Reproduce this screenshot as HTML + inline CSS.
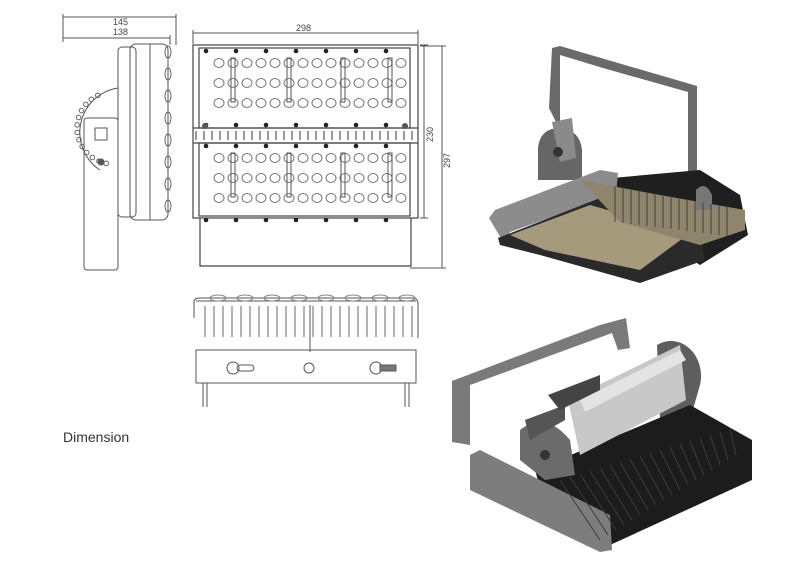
<!DOCTYPE html>
<html><head><meta charset="utf-8"><style>
html,body{margin:0;padding:0;background:#fff;width:800px;height:580px;overflow:hidden}
svg{display:block}
.l{fill:none;stroke:#555;stroke-width:1}
.t{font-family:"Liberation Sans",sans-serif;font-size:9px;fill:#444}
</style></head><body>
<svg id="s" width="800" height="580" viewBox="0 0 800 580" xmlns="http://www.w3.org/2000/svg">
<g class="l" stroke="#666">
<line x1="63" y1="17" x2="176" y2="17"/><line x1="63" y1="38" x2="170" y2="38"/>
<line x1="63" y1="14" x2="63" y2="42"/><line x1="176" y1="14" x2="176" y2="45"/><line x1="170" y1="35" x2="170" y2="45"/>
</g>
<text class="t" x="113" y="25">145</text><text class="t" x="113" y="35">138</text>
<g class="l">
<path d="M118,88 A45,45 0 0 0 100,170" />
<rect x="84" y="118" width="34" height="152" rx="3"/>
<rect x="118" y="47" width="18" height="170" rx="4"/>
<rect x="130" y="44" width="38" height="176" rx="6"/>
<line x1="150" y1="44" x2="150" y2="220"/>
<rect x="95" y="128" width="12" height="12"/>
<circle cx="101" cy="162" r="3" fill="#555"/>
</g>
<g id="sideleds" fill="none" stroke="#666"></g>
<g class="l" stroke="#666">
<line x1="193" y1="33" x2="418" y2="33"/><line x1="193" y1="30" x2="193" y2="44"/><line x1="418" y1="30" x2="418" y2="44"/>
<line x1="420" y1="45" x2="428" y2="45"/><line x1="420" y1="218" x2="428" y2="218"/>
<line x1="424" y1="45" x2="424" y2="218"/>
<line x1="420" y1="46" x2="446" y2="46"/><line x1="410" y1="268" x2="446" y2="268"/>
<line x1="442" y1="46" x2="442" y2="268"/>
</g>
<text class="t" x="296" y="31">298</text>
<text class="t" transform="translate(433,142) rotate(-90)">230</text>
<text class="t" transform="translate(450,168) rotate(-90)">297</text>
<g stroke="#444" fill="none" stroke-width="1.2">
<rect x="193" y="45" width="225" height="173"/>
<rect x="199" y="48" width="211" height="80"/>
<rect x="199" y="143" width="211" height="73"/>
<line x1="193" y1="128" x2="418" y2="128"/><line x1="193" y1="143" x2="418" y2="143"/>
<path d="M200,218 V266 H411 V218"/>
</g>
<g id="front"></g>
<g stroke="#555" fill="none">
<path d="M194,318 V302 Q194,298 200,298 H412 Q418,298 418,304 V338"/>
<rect x="196" y="350" width="220" height="33"/>
<line x1="196" y1="301" x2="416" y2="301"/>
<circle cx="309" cy="368" r="5"/>
<circle cx="233" cy="368" r="6"/><rect x="237" y="365" width="17" height="6" rx="3"/>
<circle cx="376" cy="368" r="6"/><rect x="380" y="365" width="16" height="6" fill="#777"/>
<line x1="203" y1="383" x2="203" y2="407"/><line x1="207" y1="383" x2="207" y2="407"/>
<line x1="405" y1="383" x2="405" y2="407"/><line x1="409" y1="383" x2="409" y2="407"/>
<line x1="310" y1="305" x2="310" y2="352"/>
</g>
<g id="bot"></g>
<text x="63" y="442" font-family="Liberation Sans, sans-serif" font-size="14" fill="#333">Dimension</text>
<g>
<path d="M549,108 L552,48 L560,46 L697,86 L697,187 L688,187 L688,92 L603,68 L560,55 L560,130 Z" fill="#6a6a6a"/>
<path d="M538,148 Q540,128 560,128 Q580,130 582,150 L582,180 L538,180 Z" fill="#666"/>
<path d="M552,122 L572,118 L576,158 L560,162 Z" fill="#8a8a8a"/>
<circle cx="558" cy="152" r="5" fill="#333"/>
<path d="M590,180 L700,170 L740,195 L748,235 L700,265 L660,240 Z" fill="#1f1f1f"/>
<path d="M489,218 L495,210 L600,170 L618,173 L616,194 L510,232 L505,245 Z" fill="#8c8c8c"/>
<path d="M498,238 L600,198 L700,230 L705,260 L640,283 L540,255 L500,245 Z" fill="#2a2a2a"/>
<path d="M510,235 L590,205 L690,233 L640,270 L545,250 Z" fill="#a59a7c"/>
<path d="M580,180 L660,195 L745,210 L745,230 L700,245 L620,222 Z" fill="#8f856c"/>
<path d="M696,190 Q705,180 712,195 L712,210 L696,210 Z" fill="#777"/>
</g>
<g>
<path d="M452,381 L600,325 L626,318 L630,348 L618,350 L612,333 L470,385 L470,445 L452,442 Z" fill="#7a7a7a"/>
<path d="M657,345 A30,35 0 0 1 700,385 L690,420 L660,420 Z" fill="#5e5e5e"/>
<path d="M535,470 L690,405 L752,440 L752,480 L610,545 L545,505 Z" fill="#1c1c1c"/>
<path d="M470,455 L480,450 L610,515 L612,550 L600,552 L470,490 Z" fill="#7d7d7d"/>
<path d="M520,430 Q545,410 570,440 L575,475 L545,480 L520,460 Z" fill="#6b6b6b"/>
<circle cx="545" cy="455" r="5" fill="#333"/>
<path d="M525,420 L565,405 L565,420 L530,440 Z" fill="#555"/>
<path d="M568,400 L680,345 L686,400 L580,455 Z" fill="#c8c8c8"/>
<path d="M580,400 L680,350 L686,360 L585,412 Z" fill="#e3e3e3"/>
<path d="M548,395 L600,375 L600,390 L560,410 Z" fill="#444"/>
</g>
<script>
var ns="http://www.w3.org/2000/svg";
function add(p,tag,a){var e=document.createElementNS(ns,tag);for(var k in a)e.setAttribute(k,a[k]);document.getElementById(p).appendChild(e);}
for(var i=0;i<13;i++){var t=(25+i*12)*Math.PI/180;add("sideleds","circle",{cx:113-36*Math.sin(t),cy:128-36*Math.cos(t),r:2.3});}
for(var i=0;i<8;i++){add("sideleds","ellipse",{cx:168,cy:52+i*22,rx:3,ry:6});}
[[48,128],[143,216]].forEach(function(b){
 var y0=b[0];
 for(var c=0;c<14;c++){for(var r=0;r<3;r++){add("front","ellipse",{cx:219+c*14,cy:y0+15+r*20,rx:5,ry:4.5,fill:"none",stroke:"#777"});}}
 for(var c=0;c<7;c++){add("front","circle",{cx:206+c*30,cy:y0+3,r:2.3,fill:"#222"});add("front","circle",{cx:206+c*30,cy:y0+77,r:2.3,fill:"#222"});}
 [233,289,343,390].forEach(function(x){add("front","rect",{x:x-2,y:y0+10,width:4,height:44,fill:"none",stroke:"#555"});});
});
for(var i=0;i<28;i++){add("front","line",{x1:196+i*8,y1:131,x2:196+i*8,y2:140,stroke:"#333"});}
add("front","circle",{cx:205,cy:126,r:3,fill:"#555"});add("front","circle",{cx:405,cy:126,r:3,fill:"#555"});
for(var i=0;i<24;i++){add("bot","line",{x1:205+i*9,y1:306,x2:205+i*9,y2:337,stroke:"#666"});}
for(var i=0;i<8;i++){add("bot","ellipse",{cx:218+i*27,cy:298,rx:8,ry:3,fill:"none",stroke:"#888"});}
for(var i=0;i<15;i++){add("s","line",{x1:615+i*8,y1:186+i*1.5,x2:615+i*8,y2:222+i*1,stroke:"#444"});}
for(var i=0;i<18;i++){add("s","line",{x1:560+i*10,y1:480-i*3,x2:600+i*8,y2:540-i*5,stroke:"#3c3c3c"});}
</script>
</svg>
</body></html>
